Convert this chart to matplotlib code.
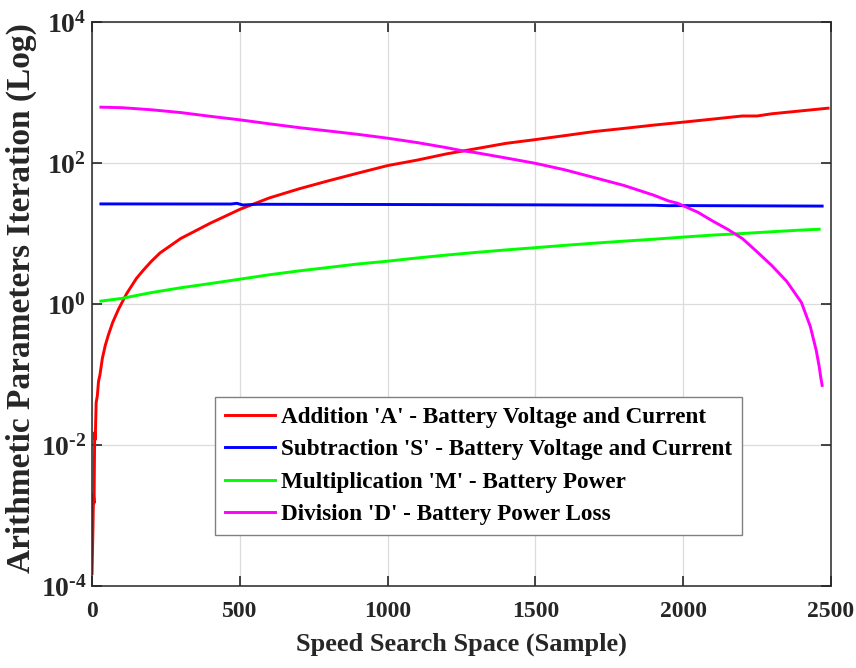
import numpy as np
import matplotlib
matplotlib.use("Agg")
import matplotlib.pyplot as plt
from matplotlib.ticker import FixedLocator, FuncFormatter, NullLocator

plt.rcParams['font.family'] = ['Liberation Serif', 'DejaVu Serif']
plt.rcParams['font.weight'] = 'bold'
plt.rcParams['mathtext.fontset'] = 'custom'
plt.rcParams['mathtext.rm'] = 'Liberation Serif:bold'
plt.rcParams['mathtext.bf'] = 'Liberation Serif:bold'

# Addition 'A'
add_x = [0, 3, 5, 7, 9, 11, 14, 18, 22, 27, 35, 45, 55, 70, 90, 117, 150, 173, 200, 230,
         300, 400, 500, 600, 700, 800, 900, 1000, 1100, 1200, 1300, 1400, 1500, 1600, 1700,
         1800, 1900, 2000, 2100, 2200, 2250, 2300, 2400, 2490]
add_y = [1.5e-4, 6e-4, 2e-3, 1.5e-3, 1.5e-2, 1.2e-2, 4e-2, 5e-2, 8e-2, 0.1, 0.17, 0.26, 0.36,
         0.55, 0.85, 1.4, 2.3, 3.0, 4.0, 5.3, 8.5, 14, 22, 32, 43, 56, 72, 92, 110, 135, 160,
         190, 215, 245, 280, 310, 345, 380, 420, 465, 465, 500, 550, 600]

# Subtraction 'S'
sub_x = [30, 470, 490, 510, 560, 1000, 1500, 1900, 1950, 2000, 2470]
sub_y = [26.3, 26.2, 26.8, 25.4, 26.0, 25.8, 25.5, 25.2, 24.8, 24.9, 24.5]

# Multiplication 'M'
mul_x = [30, 100, 200, 300, 400, 500, 600, 700, 800, 900, 1000, 1100, 1200, 1300, 1400,
         1500, 1600, 1700, 1800, 1900, 2000, 2100, 2200, 2300, 2400, 2460]
mul_y = [1.1, 1.2, 1.45, 1.7, 1.95, 2.25, 2.6, 2.95, 3.3, 3.7, 4.05, 4.5, 4.95, 5.4, 5.85,
         6.3, 6.8, 7.3, 7.8, 8.3, 8.9, 9.5, 10.0, 10.6, 11.2, 11.5]

# Division 'D'
div_x = [30, 100, 200, 300, 400, 500, 600, 700, 800, 900, 1000, 1100, 1200, 1250, 1300,
         1400, 1500, 1600, 1700, 1800, 1900, 1950, 1980, 2050, 2100, 2150, 2200, 2250, 2300,
         2350, 2400, 2430, 2450, 2460, 2465, 2470]
div_y = [620, 610, 570, 520, 460, 410, 360, 318, 285, 255, 225, 195, 165, 150, 140, 118, 99,
         80, 62, 48, 35, 29, 27, 20, 15, 11.5, 8.5, 5.5, 3.5, 2.1, 1.05, 0.48, 0.22, 0.13,
         0.093, 0.07]

labels = ["Addition 'A' - Battery Voltage and Current",
          "Subtraction 'S' - Battery Voltage and Current",
          "Multiplication 'M' - Battery Power",
          "Division 'D' - Battery Power Loss"]

x_ticks = [0, 500, 1000, 1500, 2000, 2500]
y_ticks = [1e-4, 1e-2, 1, 1e2, 1e4]


def log_label(v, pos):
    e = int(round(np.log10(v)))
    s = str(e).replace('-', '\u2010')
    return r'$\mathbf{10^{%s}}$' % s


fig = plt.figure(figsize=(8.56, 6.68), dpi=100)
ax = fig.add_axes([0.1075, 0.1228, 0.8633, 0.8442])

lw = 2.1
ax.plot(add_x, add_y, color='#ff0000', lw=lw, label=labels[0])
ax.plot(sub_x, sub_y, color='#0000ff', lw=lw, label=labels[1])
ax.plot(mul_x, mul_y, color='#00ff00', lw=lw, label=labels[2])
ax.plot(div_x, div_y, color='#ff00ff', lw=lw, label=labels[3])

ax.set_yscale('log')
ax.set_xlim(0, 2500)
ax.set_ylim(1e-4, 1e4)
ax.xaxis.set_major_locator(FixedLocator(x_ticks))
ax.yaxis.set_major_locator(FixedLocator(y_ticks))
ax.yaxis.set_minor_locator(NullLocator())
ax.yaxis.set_major_formatter(FuncFormatter(log_label))
ax.tick_params(direction='in', length=7, width=1.2, top=True, right=True,
               colors='#262626', labelcolor='#262626')
ax.tick_params(axis='x', labelsize=17, pad=11)
ax.tick_params(axis='y', labelsize=20, pad=4)
ax.grid(True, color='#dcdcdc', lw=0.9)
for s in ax.spines.values():
    s.set_color('#262626')
    s.set_linewidth(1.1)

ax.set_xlabel('Speed Search Space (Sample)', fontsize=19, fontweight='bold', color='#262626')
ax.set_ylabel('Arithmetic Parameters Iteration (Log)', fontsize=24, fontweight='bold',
              color='#262626')
ax.xaxis.set_label_coords(0.5, -0.083)
ax.yaxis.set_label_coords(-0.075, 0.51)

leg = ax.legend(loc='center', bbox_to_anchor=(0.523, 0.213), fontsize=16.7, fancybox=False,
                framealpha=1, edgecolor='#808080', handlelength=2.15, borderpad=0.42,
                labelspacing=0.48, handletextpad=0.25, borderaxespad=0)
leg.get_frame().set_linewidth(1.0)

fig.savefig('out.png', dpi=100)
